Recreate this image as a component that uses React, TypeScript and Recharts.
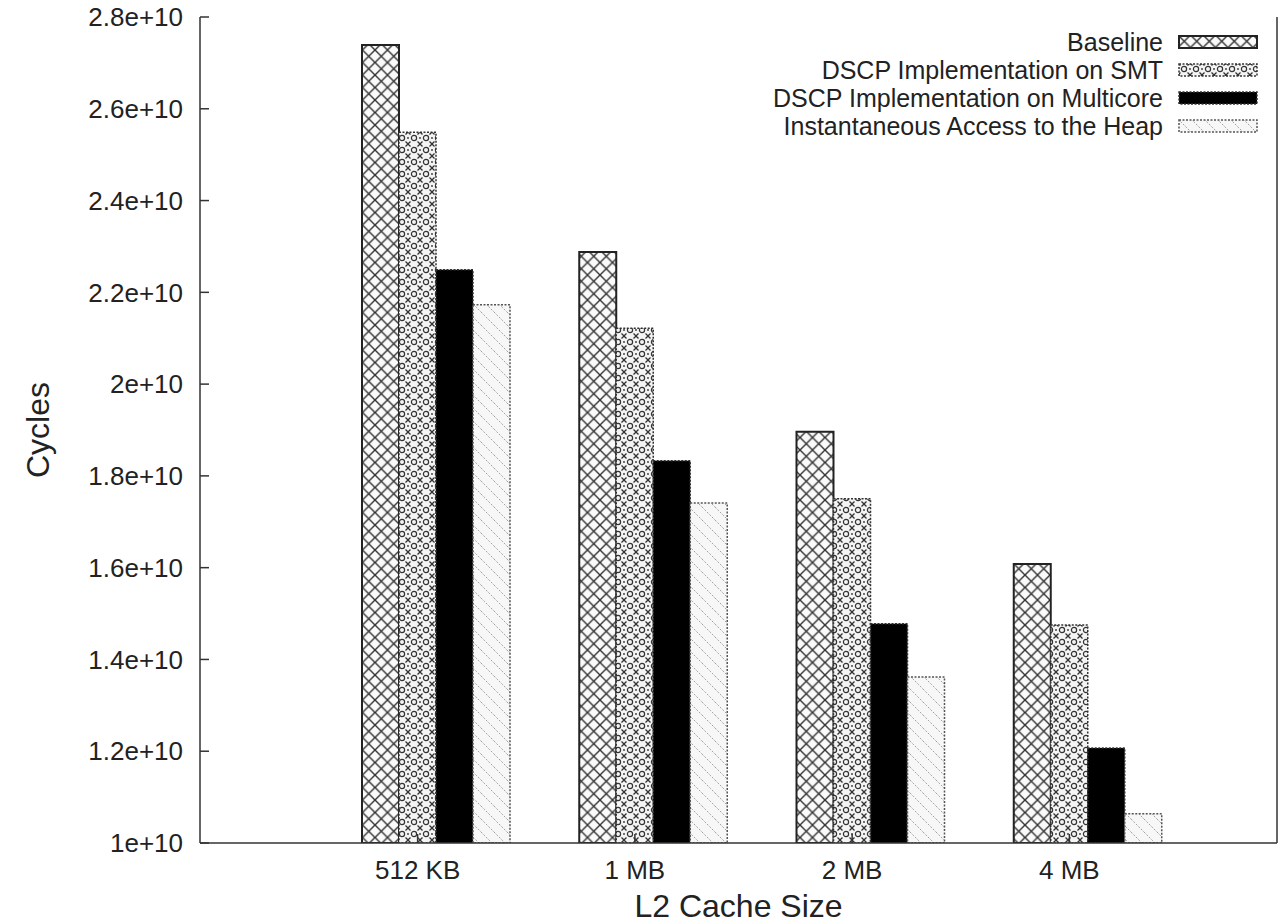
import { BarChart, Bar, XAxis, YAxis, Legend } from "recharts"

// L2 cache sizes on the x axis
const sizes = ["512 KB", "1 MB", "2 MB", "4 MB"]

// cycles per configuration
const baseline = [2.739e10, 2.288e10, 1.896e10, 1.608e10]
const smt = [2.549e10, 2.122e10, 1.75e10, 1.475e10]
const multicore = [2.249e10, 1.833e10, 1.478e10, 1.207e10]
const heap = [2.173e10, 1.741e10, 1.362e10, 1.064e10]

const yTicks = [1e10, 1.2e10, 1.4e10, 1.6e10, 1.8e10, 2e10, 2.2e10, 2.4e10, 2.6e10, 2.8e10]

const data = sizes.map((size, i) => ({
  size,
  baseline: baseline[i],
  smt: smt[i],
  multicore: multicore[i],
  heap: heap[i],
}))

const series = [
  { key: "baseline", name: "Baseline", fill: "url(#pBase)", stroke: "#222", dash: undefined },
  { key: "smt", name: "DSCP Implementation on SMT", fill: "url(#pSmt)", stroke: "#333", dash: "2 1.5" },
  { key: "multicore", name: "DSCP Implementation on Multicore", fill: "#000", stroke: "#333", dash: "2 1.5" },
  { key: "heap", name: "Instantaneous Access to the Heap", fill: "url(#pHeap)", stroke: "#555", dash: "2 1.5" },
]

const FONT = "'Liberation Sans', Arial, Helvetica, sans-serif"
const TEXT = "#222"
const TICK_SHIFT = -18 // gnuplot puts the tic half a bar left of the cluster centre

const fmt = (v: number) => `${+(v / 1e10).toFixed(1)}e+10`

function BottomTick(props: any) {
  const { x, y, payload } = props
  const tx = x + TICK_SHIFT
  return (
    <g>
      <line x1={tx} x2={tx} y1={y} y2={y - 9} stroke="#333" strokeWidth={1.5} />
      <text x={tx} y={y + 36} textAnchor="middle" fontSize={26} fill={TEXT} fontFamily={FONT}>
        {payload.value}
      </text>
    </g>
  )
}

function TopTick(props: any) {
  const { x, y } = props
  const tx = x + TICK_SHIFT
  return <line x1={tx} x2={tx} y1={y} y2={y + 9} stroke="#333" strokeWidth={1.5} />
}

function LegendBox() {
  return (
    <div
      style={{
        display: "flex",
        flexDirection: "column",
        alignItems: "flex-end",
        fontFamily: FONT,
        fontSize: 25,
        lineHeight: "28px",
        color: TEXT,
      }}
    >
      {series.map((s) => (
        <div key={s.key} style={{ display: "flex", alignItems: "center", height: 28 }}>
          <span>{s.name}</span>
          <svg width={80} height={14} style={{ marginLeft: 15 }}>
            <rect
              x={1}
              y={1}
              width={78}
              height={12}
              fill={s.fill}
              stroke={s.stroke}
              strokeWidth={s.dash ? 1.5 : 2}
              strokeDasharray={s.dash}
            />
          </svg>
        </div>
      ))}
    </div>
  )
}

export default function App() {
  return (
    <div style={{ position: "absolute", left: 0, top: 0, background: "#fff", fontFamily: FONT }}>
      <BarChart
        width={1278}
        height={923}
        data={data}
        margin={{ top: 17, right: 0, bottom: 0, left: 0 }}
        barGap={0}
      >
        <defs>
          <pattern id="pBase" patternUnits="userSpaceOnUse" width={12.5} height={12.5}>
            <rect width={12.5} height={12.5} fill="#fafafa" />
            <path d="M0,0 L12.5,12.5 M12.5,0 L0,12.5" stroke="#333" strokeWidth={1.4} />
          </pattern>
          <pattern id="pSmt" patternUnits="userSpaceOnUse" width={12} height={12}>
            <rect width={12} height={12} fill="#f4f4f4" />
            <circle cx={6} cy={6} r={2.6} fill="none" stroke="#333" strokeWidth={1.2} />
            <path
              d="M0,0 L2.5,2.5 M12,0 L9.5,2.5 M0,12 L2.5,9.5 M12,12 L9.5,9.5"
              stroke="#333"
              strokeWidth={1.3}
            />
            <circle cx={0} cy={6} r={0.9} fill="#333" />
            <circle cx={12} cy={6} r={0.9} fill="#333" />
          </pattern>
          <pattern id="pHeap" patternUnits="userSpaceOnUse" width={13} height={13}>
            <rect width={13} height={13} fill="#f7f7f7" />
            <path d="M0,0 L13,13" stroke="#999" strokeWidth={0.9} strokeDasharray="2 1.5" />
          </pattern>
        </defs>

        <XAxis
          dataKey="size"
          height={80}
          padding={{ left: 127, right: 81 }}
          interval={0}
          tickSize={0}
          tickMargin={0}
          tickLine={false}
          axisLine={{ stroke: "#333", strokeWidth: 1.5 }}
          tick={(p: any) => <BottomTick {...p} />}
          label={{
            value: "L2 Cache Size",
            position: "insideBottom",
            offset: 6,
            style: { fontSize: 32, fill: TEXT, fontFamily: FONT },
          }}
        />
        <XAxis
          xAxisId="top"
          orientation="top"
          dataKey="size"
          height={0}
          padding={{ left: 127, right: 81 }}
          interval={0}
          tickSize={0}
          tickMargin={0}
          tickLine={false}
          axisLine={{ stroke: "#333", strokeWidth: 1.5 }}
          tick={(p: any) => <TopTick {...p} />}
        />
        <YAxis
          width={200}
          domain={[1e10, 2.8e10]}
          allowDataOverflow
          ticks={yTicks}
          interval={0}
          tickFormatter={fmt}
          tickSize={-9}
          tickMargin={26}
          axisLine={{ stroke: "#333", strokeWidth: 1.5 }}
          tickLine={{ stroke: "#333", strokeWidth: 1.5 }}
          tick={{ fontSize: 26, fill: TEXT, fontFamily: FONT }}
          label={{
            value: "Cycles",
            angle: -90,
            position: "insideLeft",
            offset: 38,
            style: { textAnchor: "middle", fontSize: 32, fill: TEXT, fontFamily: FONT },
          }}
        />
        <YAxis
          yAxisId="right"
          orientation="right"
          width={1}
          domain={[1e10, 2.8e10]}
          allowDataOverflow
          ticks={yTicks}
          interval={0}
          tick={false}
          tickSize={-9}
          axisLine={{ stroke: "#333", strokeWidth: 1.5 }}
          tickLine={{ stroke: "#333", strokeWidth: 1.5 }}
        />

        {series.map((s) => (
          <Bar
            key={s.key}
            dataKey={s.key}
            name={s.name}
            barSize={37}
            fill={s.fill}
            stroke={s.stroke}
            strokeWidth={s.dash ? 1.5 : 2}
            strokeDasharray={s.dash}
            isAnimationActive={false}
          />
        ))}

        <Legend
          layout="vertical"
          align="center"
          verticalAlign="middle"
          wrapperStyle={{ top: 28, right: 20, left: "auto", width: "auto" }}
          content={() => <LegendBox />}
        />
      </BarChart>
    </div>
  )
}
